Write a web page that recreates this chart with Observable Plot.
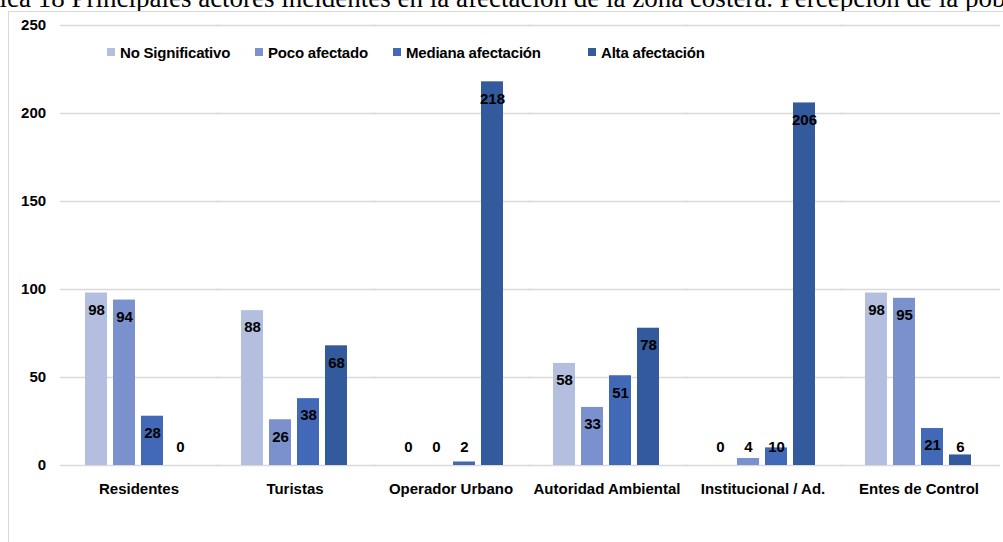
<!DOCTYPE html>
<html>
<head>
<meta charset="utf-8">
<script src="https://cdn.jsdelivr.net/npm/d3@7"></script>
<script src="https://cdn.jsdelivr.net/npm/@observablehq/plot@0.6"></script>
<style>
  html, body { margin: 0; padding: 0; background: #fff; overflow: hidden; }
  #wrap { position: relative; width: 1003px; height: 542px; overflow: hidden; font-family: "Liberation Sans", Arial, sans-serif; }
  #title { position: absolute; left: -50px; top: -15px; white-space: nowrap; font-family: "Liberation Serif", "Times New Roman", serif; font-size: 27px; line-height: 27px; color: #000; }
  #frame { position: absolute; left: 8px; top: 11px; width: 1100px; height: 600px; border-left: 1px solid #d9d9d9; border-top: 1px solid #d9d9d9; background: #fff; }
  #chart { position: absolute; left: 0; top: 0; }
  #legend { position: absolute; top: 42px; left: 0; width: 1003px; height: 20px; font-weight: bold; font-size: 15px; letter-spacing: -0.2px; color: #000; }
  .item { position: absolute; top: 0; display: flex; align-items: center; height: 20px; white-space: nowrap; }
  .sw { width: 8px; height: 8px; margin-right: 5px; }
</style>
</head>
<body>
<div id="wrap">
  <div id="title"></div>
  <div id="frame"></div>
  <div id="chart"></div>
  <div id="legend"></div>
</div>
<script>
const titleText = "Gráfica 18 Principales actores incidentes en la afectación de la zona costera. Percepción de la población";
const categories = ["Residentes", "Turistas", "Operador Urbano", "Autoridad Ambiental", "Institucional / Ad.", "Entes de Control"];
const seriesNames = ["No Significativo", "Poco afectado", "Mediana afectación", "Alta afectación"];
const seriesColors = ["#b4bfe0", "#7a91cd", "#4169b8", "#335a9c"];
const noSignificativo = [98, 88, 0, 58, 0, 98];
const pocoAfectado = [94, 26, 0, 33, 4, 95];
const medianaAfectacion = [28, 38, 2, 51, 10, 21];
const altaAfectacion = [0, 68, 218, 78, 206, 6];
const yTicks = [0, 50, 100, 150, 200, 250];
const legendX = [107, 255, 393, 588];

const seriesValues = [noSignificativo, pocoAfectado, medianaAfectacion, altaAfectacion];
const data = [];
categories.forEach((c, i) => {
  seriesNames.forEach((s, j) => data.push({cat: c, series: s, value: seriesValues[j][i]}));
});

document.getElementById("title").textContent = titleText;

const font = {fontFamily: "Liberation Sans, Arial, sans-serif", fontWeight: "bold", fontSize: 15};

// facet gap: step * paddingInner / 2 on each side
const W = 1003, ML = 60, MR = 6;
const step = (W - ML - MR) / (categories.length - 0.3 + 2 * 0.15);
const halfGap = step * 0.3 / 2;

const chart = Plot.plot({
  width: W,
  height: 542,
  marginTop: 25,
  marginBottom: 77,
  marginLeft: ML,
  marginRight: MR,
  style: {background: "transparent", fontFamily: font.fontFamily, fontSize: "15px", fontWeight: "bold", color: "#000", overflow: "visible"},
  fx: {domain: categories, paddingInner: 0.3, paddingOuter: 0.15, label: null, axis: "bottom", tickSize: 0, tickPadding: 18},
  x: {domain: seriesNames, paddingInner: 0.2, paddingOuter: 0, axis: null},
  y: {domain: [0, 250], axis: null},
  color: {domain: seriesNames, range: seriesColors},
  marks: [
    Plot.ruleY(yTicks, {y: d => d, stroke: "#d9d9d9", strokeWidth: 1.5, insetLeft: -halfGap - 0.5, insetRight: -halfGap - 3.5}),
    Plot.text(yTicks, {fx: () => categories[0], y: d => d, text: d => String(d), frameAnchor: "left", textAnchor: "end", dx: -halfGap - 15, fill: "#000", ...font}),
    Plot.barY(data, {fx: "cat", x: "series", y: "value", fill: "series"}),
    Plot.text(data, {fx: "cat", x: "series", y: d => Math.max(d.value, 19.9), dy: 17, text: d => String(d.value), fill: "#000", ...font, letterSpacing: "-0.5px"})
  ]
});
document.getElementById("chart").appendChild(chart);

const legend = document.getElementById("legend");
seriesNames.forEach((s, i) => {
  const it = document.createElement("div");
  it.className = "item";
  it.style.left = legendX[i] + "px";
  const sw = document.createElement("span");
  sw.className = "sw";
  sw.style.background = seriesColors[i];
  const t = document.createElement("span");
  t.textContent = s;
  it.appendChild(sw); it.appendChild(t);
  legend.appendChild(it);
});
</script>
</body>
</html>
